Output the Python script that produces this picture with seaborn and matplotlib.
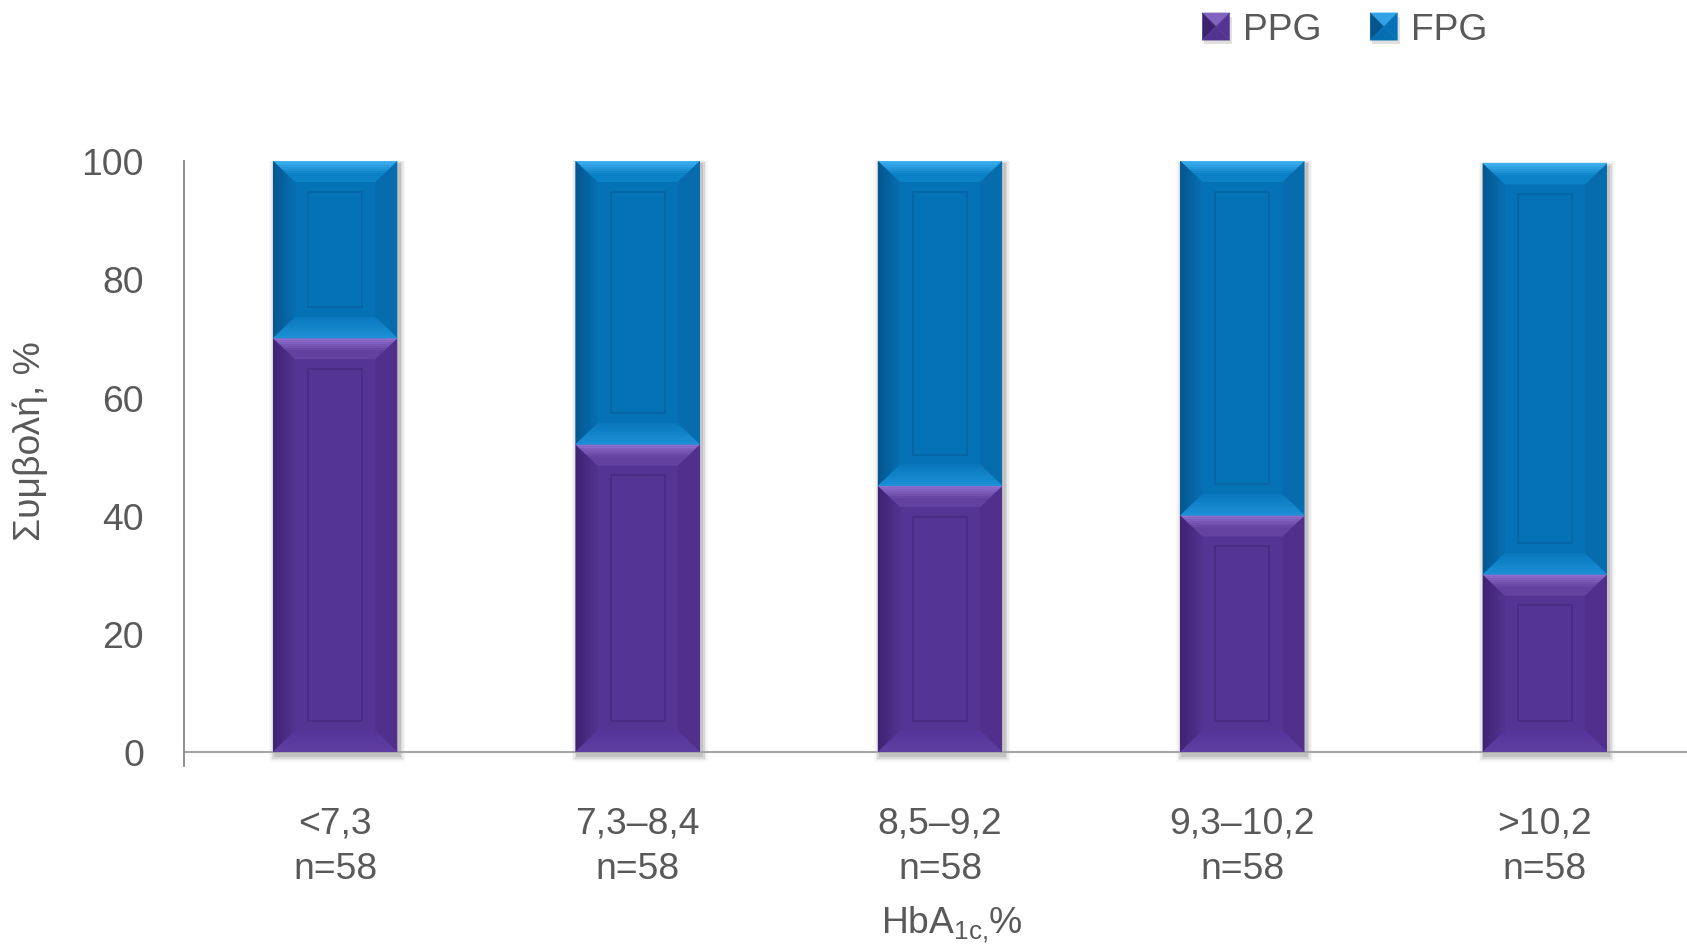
import numpy as np
import pandas as pd
import matplotlib
matplotlib.use("Agg")
import matplotlib.pyplot as plt
from matplotlib.patches import Polygon, Rectangle, Patch
from matplotlib.legend_handler import HandlerBase
from matplotlib.colors import to_rgb
import seaborn as sns

# ---- data -------------------------------------------------------------
hba1c_groups = ["<7,3", "7,3–8,4", "8,5–9,2", "9,3–10,2", ">10,2"]
n_per_group = [58, 58, 58, 58, 58]
ppg_share = [70, 52, 45, 40, 30]        # postprandial glucose contribution, %
fpg_share = [30, 48, 55, 60, 69.6]      # fasting glucose contribution, %

tick_labels = [f"{g}\nn={n}" for g, n in zip(hba1c_groups, n_per_group)]

# ---- style ------------------------------------------------------------
sns.set_style("white")
plt.rcParams["font.family"] = ["Liberation Sans", "DejaVu Sans"]
plt.rcParams["mathtext.fontset"] = "custom"
plt.rcParams["mathtext.rm"] = "Liberation Sans"
TEXT = "#595959"
FS = 26.8

PURPLE = "#553594"
BLUE = "#0672B6"
SHADES = {
    PURPLE: dict(top=("#9474D2", "#63439F"), left=("#3E2272", "#52338F"),
                 right="#50308C", bottom=("#56369A", "#5F3FA2"),
                 inner="#4A2C85"),
    BLUE: dict(top=("#45B6F4", "#0C82C8"), left=("#05558E", "#066FB2"),
               right="#066CAE", bottom=("#0A78BE", "#1C92D8"),
               inner="#0866A6"),
}

fig = plt.figure(figsize=(16.87, 9.45), dpi=100)
ax = fig.add_axes([0.1091, 0.18836, 0.8963, 0.6405])

df = pd.DataFrame({
    "group": tick_labels,
    "total": np.array(ppg_share) + np.array(fpg_share),
    "ppg": ppg_share,
})

BAR_W = 0.41
sns.barplot(data=df, x="group", y="total", color=BLUE, saturation=1,
            width=BAR_W, edgecolor="none", linewidth=0, ax=ax, zorder=3)
sns.barplot(data=df, x="group", y="ppg", color=PURPLE, saturation=1,
            width=BAR_W, edgecolor="none", linewidth=0, ax=ax, zorder=3)

n = len(hba1c_groups)
ax.set_xlim(-0.5, n - 0.5)
ax.set_ylim(-2.42, 100)

# pixel -> data conversions for the bevel decoration
ax_w_px = ax.get_position().width * fig.get_figwidth() * fig.dpi
ax_h_px = ax.get_position().height * fig.get_figheight() * fig.dpi
PX_X = (ax.get_xlim()[1] - ax.get_xlim()[0]) / ax_w_px
PX_Y = (ax.get_ylim()[1] - ax.get_ylim()[0]) / ax_h_px


def mix(c1, c2, t):
    a, b = np.array(to_rgb(c1)), np.array(to_rgb(c2))
    return tuple(a + (b - a) * t)


def bevel(x0, y0, w, h, color, z=4):
    """Draw a framed/bevelled look over a bar segment."""
    sh = SHADES[color]
    x1, y1 = x0 + w, y0 + h
    bx, by = 22 * PX_X, 21 * PX_Y
    steps = 10
    # left side (dark at the outer edge)
    for i in range(steps):
        ua, ub = bx * i / steps, bx * (i + 1) / steps
        c = mix(*sh["left"], (i + 0.5) / steps)
        ax.add_patch(Polygon([(x0 + ua, y0 + by * ua / bx), (x0 + ub, y0 + by * ub / bx),
                              (x0 + ub, y1 - by * ub / bx), (x0 + ua, y1 - by * ua / bx)],
                             closed=True, fc=c, ec=c, lw=0.3, zorder=z))
    # right side
    ax.add_patch(Polygon([(x1, y0), (x1 - bx, y0 + by), (x1 - bx, y1 - by), (x1, y1)],
                         closed=True, fc=sh["right"], ec="none", zorder=z))
    # top (light at the upper edge)
    for i in range(steps):
        va, vb = by * i / steps, by * (i + 1) / steps
        t = min(1.0, ((i + 0.5) / steps) * 1.6)
        c = mix(*sh["top"], t)
        ax.add_patch(Polygon([(x0 + bx * va / by, y1 - va), (x1 - bx * va / by, y1 - va),
                              (x1 - bx * vb / by, y1 - vb), (x0 + bx * vb / by, y1 - vb)],
                             closed=True, fc=c, ec=c, lw=0.3, zorder=z))
    # bottom (slightly lighter towards the lower edge)
    for i in range(steps):
        va, vb = by * i / steps, by * (i + 1) / steps
        c = mix(*sh["bottom"], 1 - (i + 0.5) / steps)
        ax.add_patch(Polygon([(x0 + bx * va / by, y0 + va), (x1 - bx * va / by, y0 + va),
                              (x1 - bx * vb / by, y0 + vb), (x0 + bx * vb / by, y0 + vb)],
                             closed=True, fc=c, ec=c, lw=0.3, zorder=z))
    # inner recessed panel outline
    ix, iy = 35 * PX_X, 31 * PX_Y
    ax.add_patch(Rectangle((x0 + ix, y0 + iy), w - 2 * ix, h - 2 * iy, fc="none",
                           ec=sh["inner"], lw=1.4, zorder=z + 0.1))


bars = ax.patches[:]
blue_bars, purple_bars = bars[:n], bars[n:2 * n]
for bb, pb in zip(blue_bars, purple_bars):
    x0, w = pb.get_x(), pb.get_width()
    p_top = pb.get_y() + pb.get_height()
    b_top = bb.get_y() + bb.get_height()
    # soft drop shadow under each stacked bar
    for k, a in enumerate([0.10, 0.07, 0.05, 0.03]):
        grow = (k + 1) * 1.5
        ax.add_patch(Rectangle((x0 - grow * PX_X + 2 * PX_X, -(4 + grow) * PX_Y),
                               w + 2 * grow * PX_X, b_top + 2 * grow * PX_Y,
                               fc="black", ec="none", alpha=a, zorder=1))
    bevel(x0, 0, w, p_top, PURPLE)
    bevel(x0, p_top, w, b_top - p_top, BLUE)

ax.set_xlim(-0.5, n - 0.5)
ax.set_ylim(-2.42, 100)

# ---- axes styling -----------------------------------------------------
for s in ["top", "right"]:
    ax.spines[s].set_visible(False)
ax.spines["left"].set_color("#868686")
ax.spines["left"].set_linewidth(1.3)
ax.spines["bottom"].set_position(("data", 0))
ax.spines["bottom"].set_color("#A6A6A6")
ax.spines["bottom"].set_linewidth(1.5)
ax.spines["bottom"].set_zorder(2)

ax.set_yticks([0, 20, 40, 60, 80, 100])
ax.tick_params(axis="y", direction="out", length=10.8, width=1.2, color="#868686",
               pad=18.0, labelsize=FS, labelcolor=TEXT)
ax.set_xticks(range(n))
ax.set_xticklabels(tick_labels)
ax.set_xticks(np.arange(n - 1) + 0.5, minor=True)
ax.tick_params(axis="x", which="major", length=0, pad=38.5, labelsize=FS, labelcolor=TEXT)
ax.tick_params(axis="x", which="minor", length=2.5, width=1, color="#C8C8C8")
for lab in ax.get_xticklabels():
    lab.set_linespacing(1.40)
ax.set_xlabel("")
ax.set_ylabel("")
ax.grid(False)

fig.text(30 / 1687, 1 - 441 / 945, "Συμβολή, %", rotation=90, ha="center",
         va="center", fontsize=FS, color=TEXT)
fig.text(952 / 1687, 1 - 934 / 945, r"$\mathregular{HbA_{1c,}\!\%}$", ha="center",
         va="baseline", fontsize=FS, color=TEXT)


# ---- legend with pyramid-shaded keys -----------------------------------
class PyramidHandler(HandlerBase):
    def __init__(self, color):
        super().__init__()
        self.color = color

    def create_artists(self, legend, orig_handle, xdescent, ydescent,
                       width, height, fontsize, trans):
        sh = SHADES[self.color]
        s = min(width, height)
        x0 = -xdescent + (width - s) / 2
        y0 = -ydescent + (height - s) / 2
        c = (x0 + s / 2, y0 + s / 2)
        bl, br, tr, tl = (x0, y0), (x0 + s, y0), (x0 + s, y0 + s), (x0, y0 + s)
        arts = [Rectangle((x0 + 1.5, y0 - 3), s, s, fc="black", ec="none", alpha=0.12,
                          transform=trans)]
        for verts, col in [([tl, tr, c], mix(sh["top"][0], sh["top"][1], 0.35)),
                           ([bl, tl, c], sh["left"][0]),
                           ([br, tr, c], self.color),
                           ([bl, br, c], sh["left"][1])]:
            arts.append(Polygon(verts, closed=True, fc=col, ec=col, lw=0.3, transform=trans))
        return arts


handles = [Patch(facecolor=PURPLE, label="PPG"), Patch(facecolor=BLUE, label="FPG")]
fig.legend(handles=handles, loc="center left", bbox_to_anchor=(1202 / 1687, 1 - 31 / 945),
           ncol=2, frameon=False, fontsize=FS, labelcolor=TEXT,
           handlelength=0.75, handleheight=0.75, handletextpad=0.35,
           columnspacing=1.30, borderpad=0, borderaxespad=0,
           handler_map={handles[0]: PyramidHandler(PURPLE), handles[1]: PyramidHandler(BLUE)})

fig.savefig("out.png", dpi=100)
